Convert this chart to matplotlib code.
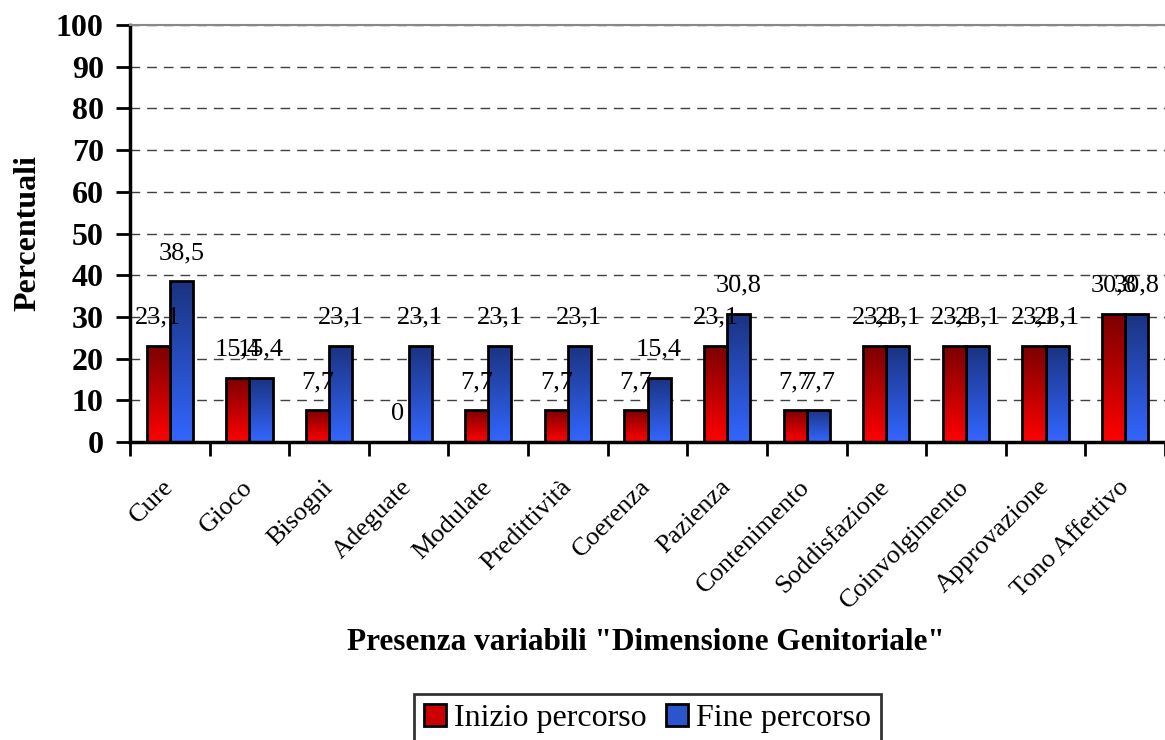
import numpy as np
import matplotlib.pyplot as plt
import matplotlib.transforms as mtransforms
from matplotlib.patches import Patch

plt.rcParams['font.family'] = ['Liberation Serif', 'DejaVu Serif']

categorie = ['Cure', 'Gioco', 'Bisogni', 'Adeguate', 'Modulate', 'Predittività',
             'Coerenza', 'Pazienza', 'Contenimento', 'Soddisfazione',
             'Coinvolgimento', 'Approvazione', 'Tono Affettivo']
inizio = [23.1, 15.4, 7.7, 0, 7.7, 7.7, 7.7, 23.1, 7.7, 23.1, 23.1, 23.1, 30.8]
fine = [38.5, 15.4, 23.1, 23.1, 23.1, 23.1, 15.4, 30.8, 7.7, 23.1, 23.1, 23.1, 30.8]

# gradient: bottom colour -> top colour
grad_rosso = ('#ff0000', '#7a0000')
grad_blu = ('#3366ff', '#1a3380')


def gradient_bar(ax, bar, colors):
    x, y = bar.get_x(), bar.get_y()
    w, h = bar.get_width(), bar.get_height()
    if h <= 0:
        return
    c0 = np.array(plt.matplotlib.colors.to_rgb(colors[0]))
    c1 = np.array(plt.matplotlib.colors.to_rgb(colors[1]))
    t = np.linspace(0, 1, 256)[:, None]
    img = (c0 * (1 - t) + c1 * t)[:, None, :]
    im = ax.imshow(img, extent=[x, x + w, y, y + h], origin='lower',
                   aspect='auto', zorder=2)
    im.set_clip_path(bar)


def fmt(v):
    if v == 0:
        return '0'
    return f'{v:.1f}'.replace('.', ',')


fig = plt.figure(figsize=(11.65, 7.4), dpi=100)
ax = fig.add_axes([0.1116, 0.4027, 0.8884, 0.5635])

x = np.arange(len(categorie))
w = 0.29
b1 = ax.bar(x - w / 2, inizio, w, facecolor='none', edgecolor='black', linewidth=2, zorder=3)
b2 = ax.bar(x + w / 2, fine, w, facecolor='none', edgecolor='black', linewidth=2, zorder=3)
for b in b1:
    gradient_bar(ax, b, grad_rosso)
for b in b2:
    gradient_bar(ax, b, grad_blu)

for xi, v in zip(x - w / 2, inizio):
    ax.text(xi, v + 6.7, fmt(v), ha='center', va='center', fontsize=19, zorder=4)
for xi, v in zip(x + w / 2, fine):
    ax.text(xi, v + 6.7, fmt(v), ha='center', va='center', fontsize=19, zorder=4)

ax.set_xlim(-0.5, len(categorie) - 0.5)
ax.set_ylim(0, 100)
ax.set_yticks(np.arange(0, 101, 10))
ax.set_yticklabels([str(v) for v in range(0, 101, 10)], fontsize=23, fontweight='bold')
ax.yaxis.grid(True, linestyle=(0, (7, 5)), color='#404040', linewidth=1)
ax.set_axisbelow(True)

ax.set_xticks(np.arange(-0.5, len(categorie), 1))
ax.set_xticklabels([])
ax.set_xticks(x, minor=True)
ax.set_xticklabels(categorie, minor=True, rotation=45, ha='right', va='center',
                   rotation_mode='anchor', fontsize=19)
shift = mtransforms.ScaledTranslation(-7 / 100, 0, fig.dpi_scale_trans)
for lab in ax.get_xticklabels(minor=True):
    lab.set_transform(lab.get_transform() + shift)
ax.tick_params(axis='x', which='minor', length=0, pad=30)
ax.tick_params(axis='x', which='major', length=10, width=2, direction='out')
ax.tick_params(axis='y', length=10, width=2, direction='out', pad=9)

ax.spines['right'].set_visible(False)
ax.spines['top'].set_color('#888888')
ax.spines['top'].set_linewidth(1.5)
for s in ['left', 'bottom']:
    ax.spines[s].set_linewidth(2.5)

fig.text(0.024, 0.685, 'Percentuali', rotation=90, ha='center', va='center',
         fontsize=23, fontweight='bold')
fig.text(0.554, 0.1324, 'Presenza variabili "Dimensione Genitoriale"',
         ha='center', va='center', fontsize=22.5, fontweight='bold')

handles = [Patch(facecolor='#cc0000', edgecolor='black', linewidth=2),
           Patch(facecolor='#2a55cc', edgecolor='black', linewidth=2)]
leg = fig.legend(handles, ['Inizio percorso', 'Fine percorso'], loc='upper center',
                 bbox_to_anchor=(0.556, 0.062), ncol=2, fontsize=23, frameon=True,
                 fancybox=False, edgecolor='black', handlelength=0.7,
                 handleheight=0.7, handletextpad=0.25, columnspacing=0.6,
                 borderpad=0.3, borderaxespad=0)
leg.get_frame().set_linewidth(2)

fig.savefig('out.png', dpi=100)
